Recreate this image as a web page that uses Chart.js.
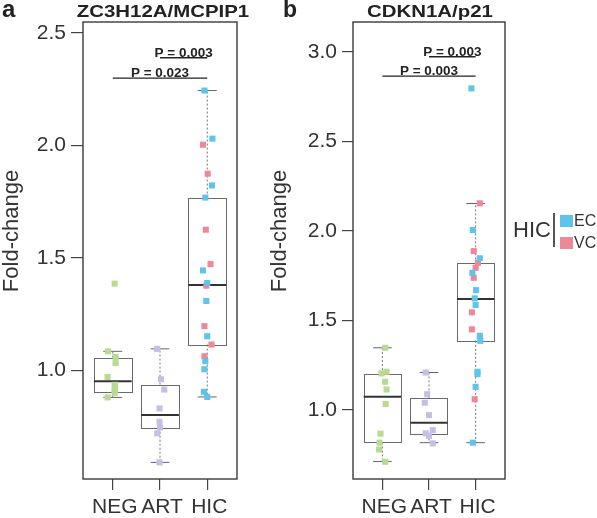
<!DOCTYPE html>
<html>
<head>
<meta charset="utf-8">
<script src="https://cdn.jsdelivr.net/npm/chart.js@4.4.0/dist/chart.umd.min.js"></script>
<style>
    body { margin: 0; background: #fff; }
    #wrap { position: relative; width: 597px; height: 518px; overflow: hidden; font-family: "Liberation Sans", Arial, sans-serif; color: #222; }
    canvas { position: absolute; top: 0; }
    .txt { position: absolute; white-space: nowrap; line-height: 1; }
    .panel { font-weight: bold; }
    .title { font-weight: bold; font-size: 17px; width: 220px; text-align: center; transform: scaleX(1.2); }
    .ytitle { font-size: 22px; line-height: 22px; width: 160px; height: 22px; text-align: center; transform: rotate(-90deg); color: #333; }
    .sw { position: absolute; width: 13px; height: 12px; }
</style>
</head>
<body>
<div id="wrap">
    <canvas id="chart-a" width="250" height="518" style="left:0px"></canvas>
    <canvas id="chart-b" width="240" height="518" style="left:280px"></canvas>

    <div class="txt panel" style="left:2px; top:-3px; font-size:24px;">a</div>
    <div class="txt panel" style="left:283px; top:-2.5px; font-size:23px;">b</div>
    <div class="txt title" style="left:53px; top:2.6px;">ZC3H12A/MCPIP1</div>
    <div class="txt title" style="left:320px; top:2.6px;">CDKN1A/p21</div>
    <div class="txt ytitle" style="left:-69px; top:220px;">Fold-change</div>
    <div class="txt ytitle" style="left:199px; top:220px;">Fold-change</div>

    <div class="txt" style="left:513px; top:219px; font-size:22px; color:#333;">HIC</div>
    <div style="position:absolute; left:553px; top:213px; width:1.5px; height:34px; background:#555;"></div>
    <div class="sw" style="left:560px; top:215px; background:#5fc4ec;"></div>
    <div class="sw" style="left:560px; top:237px; background:#ee8898;"></div>
    <div class="txt" style="left:574px; top:213px; font-size:16px; color:#333;">EC</div>
    <div class="txt" style="left:574px; top:235px; font-size:16px; color:#333;">VC</div>
</div>

<script>
const categories = ['NEG', 'ART', 'HIC'];

// panel a : ZC3H12A/MCPIP1
const negA = [1.385, 1.084, 1.059, 1.032, 0.970, 0.935, 0.925, 0.912, 0.899, 0.879];
const negJitA = [0.04, -0.10, 0.06, 0.06, -0.11, 0.04, 0.05, 0.04, 0.04, -0.11];
const artA = [1.095, 0.960, 0.914, 0.830, 0.770, 0.745, 0.719, 0.590];
const artJitA = [-0.06, 0.02, 0.09, -0.01, -0.01, 0.00, -0.06, -0.01];
const hicEcA = [2.244, 2.030, 1.822, 1.768, 1.444, 1.388, 1.308, 1.151, 1.040, 1.004, 0.904, 0.881];
const hicEcJitA = [-0.06, 0.11, 0.10, -0.04, -0.09, 0.00, -0.02, 0.00, -0.04, -0.06, -0.07, 0.00];
const hicVcA = [2.003, 1.874, 1.625, 1.472, 1.376, 1.196, 1.114, 1.062];
const hicVcJitA = [-0.09, 0.01, -0.03, 0.07, -0.02, -0.06, 0.09, -0.06];

const boxLowA = [0.879, 0.590, 0.881];
const boxQ1A = [0.905, 0.744, 1.114];
const boxMedA = [0.951, 0.801, 1.379];
const boxQ3A = [1.056, 0.936, 1.768];
const boxHighA = [1.084, 1.095, 2.244];

const pLabelA = ['P = 0.003', 'P = 0.023'];
const pFromA = [2, 1];
const pToA = [3, 3];
const pYA = [2.390, 2.299];
const yTicksA = [1.0, 1.5, 2.0, 2.5];

// panel b : CDKN1A/p21
const negB = [1.348, 1.214, 1.205, 1.158, 1.115, 1.034, 0.868, 0.818, 0.780, 0.711];
const negJitB = [0.06, 0.09, -0.02, 0.06, 0.09, 0.07, -0.04, -0.06, -0.07, 0.06];
const artB = [1.210, 1.089, 1.041, 0.972, 0.888, 0.870, 0.856, 0.814];
const artJitB = [-0.07, -0.04, -0.09, 0.00, 0.08, -0.07, 0.00, 0.08];
const hicEcB = [2.797, 2.006, 1.848, 1.767, 1.670, 1.624, 1.587, 1.415, 1.387, 1.214, 1.201, 1.130, 0.818];
const hicEcJitB = [-0.09, -0.06, 0.09, -0.07, 0.01, -0.02, 0.00, 0.09, 0.10, 0.04, 0.04, 0.00, -0.06];
const hicVcB = [2.155, 1.888, 1.823, 1.795, 1.739, 1.546, 1.451, 1.061];
const hicVcJitB = [0.09, -0.04, 0.05, 0.00, -0.04, -0.08, -0.08, -0.02];

const boxLowB = [0.713, 0.818, 0.818];
const boxQ1B = [0.819, 0.864, 1.387];
const boxMedB = [1.074, 0.929, 1.620];
const boxQ3B = [1.201, 1.065, 1.820];
const boxHighB = [1.348, 1.210, 2.154];

const pLabelB = ['P = 0.003', 'P = 0.003'];
const pFromB = [2, 1];
const pToB = [3, 3];
const pYB = [2.974, 2.866];
const yTicksB = [1.0, 1.5, 2.0, 2.5, 3.0];

const colNeg = '#b9da93';
const colArt = '#c4c0e4';
const colEc = '#5fc4ec';
const colVc = '#ee8898';


function toPoints(values, jitter, cat) {
    return values.map((v, i) => ({x: cat + jitter[i], y: v}));
}


// boxes under the points, frame and P-value bars over them
function makeBoxPlugin(low, q1, med, q3, high, pLabel, pFrom, pTo, pY) {
    return {
        id: 'boxes',
        beforeDatasetsDraw(chart) {
            const ctx = chart.ctx;
            const x = chart.scales.x;
            const y = chart.scales.y;
            ctx.save();
            for (let i = 0; i < low.length; ++i) {
                let c = i + 1;
                let xl = x.getPixelForValue(c - 0.4);
                let xr = x.getPixelForValue(c + 0.4);
                let xc = x.getPixelForValue(c);
                let cl = x.getPixelForValue(c - 0.2);
                let cr = x.getPixelForValue(c + 0.2);

                // whiskers
                ctx.strokeStyle = '#777';
                ctx.lineWidth = 1;
                ctx.setLineDash([2, 2]);
                ctx.beginPath();
                ctx.moveTo(xc, y.getPixelForValue(q3[i]));
                ctx.lineTo(xc, y.getPixelForValue(high[i]));
                ctx.moveTo(xc, y.getPixelForValue(q1[i]));
                ctx.lineTo(xc, y.getPixelForValue(low[i]));
                ctx.stroke();
                ctx.setLineDash([]);

                ctx.strokeStyle = '#666';
                ctx.beginPath();
                ctx.moveTo(cl, y.getPixelForValue(high[i]));
                ctx.lineTo(cr, y.getPixelForValue(high[i]));
                ctx.moveTo(cl, y.getPixelForValue(low[i]));
                ctx.lineTo(cr, y.getPixelForValue(low[i]));
                ctx.stroke();

                // box
                let yt = y.getPixelForValue(q3[i]);
                let yb = y.getPixelForValue(q1[i]);
                ctx.strokeStyle = '#6a6a6a';
                ctx.strokeRect(Math.round(xl) + 0.5, Math.round(yt) + 0.5, Math.round(xr - xl), Math.round(yb - yt));

                // median
                ctx.strokeStyle = '#333';
                ctx.lineWidth = 2;
                ctx.beginPath();
                ctx.moveTo(xl, y.getPixelForValue(med[i]));
                ctx.lineTo(xr, y.getPixelForValue(med[i]));
                ctx.stroke();
            }
            ctx.restore();
        },
        afterDatasetsDraw(chart) {
            const ctx = chart.ctx;
            const a = chart.chartArea;
            const x = chart.scales.x;
            const y = chart.scales.y;
            ctx.save();
            ctx.strokeStyle = '#3a3a3a';
            ctx.lineWidth = 1.4;
            ctx.strokeRect(a.left, a.top, a.right - a.left, a.bottom - a.top);

            ctx.strokeStyle = '#222';
            ctx.fillStyle = '#222';
            ctx.lineWidth = 1.3;
            ctx.font = 'bold 13.5px "Liberation Sans", Arial, sans-serif';
            ctx.textAlign = 'center';
            ctx.textBaseline = 'alphabetic';
            for (let i = 0; i < pLabel.length; ++i) {
                let x1 = x.getPixelForValue(pFrom[i]);
                let x2 = x.getPixelForValue(pTo[i]);
                let py = y.getPixelForValue(pY[i]);
                ctx.beginPath();
                ctx.moveTo(x1, py);
                ctx.lineTo(x2, py);
                ctx.stroke();
                ctx.fillText(pLabel[i], (x1 + x2) / 2, py - 1);
            }
            ctx.restore();
        }
    };
}


function drawPanel(canvasId, sets, yMin, yMax, yTicks, yWidth, padRight, yTickLen, plugin) {
    const data = {
        datasets: [
            {label: 'NEG', data: sets[0], backgroundColor: colNeg},
            {label: 'ART', data: sets[1], backgroundColor: colArt},
            {label: 'EC', data: sets[2], backgroundColor: colEc},
            {label: 'VC', data: sets[3], backgroundColor: colVc}
        ]
    };
    data.datasets.forEach(d => {
        d.pointStyle = 'rect';
        d.pointRadius = 4.3;
        d.pointBorderWidth = 0;
        d.borderWidth = 0;
    });

    const config = {
        type: 'scatter',
        data: data,
        options: {
            responsive: false,
            animation: false,
            events: [],
            layout: {padding: {top: 22, right: padRight, left: 0, bottom: 0}},
            plugins: {
                legend: {display: false},
                tooltip: {enabled: false}
            },
            scales: {
                x: {
                    type: 'linear',
                    min: 0.37,
                    max: 3.63,
                    afterBuildTicks: axis => { axis.ticks = categories.map((c, i) => ({value: i + 1})); },
                    afterFit: axis => { axis.height = 39; },
                    ticks: {
                        callback: (v, i) => categories[i],
                        autoSkip: false,
                        maxRotation: 0,
                        padding: 5,
                        labelOffset: 2,
                        color: '#333',
                        font: {family: '"Liberation Sans", Arial, sans-serif', size: 21}
                    },
                    grid: {drawOnChartArea: false, drawTicks: true, tickLength: 11, color: '#444', lineWidth: 1.2},
                    border: {display: false}
                },
                y: {
                    min: yMin,
                    max: yMax,
                    afterBuildTicks: axis => { axis.ticks = yTicks.map(v => ({value: v})); },
                    afterFit: axis => { axis.width = yWidth; },
                    ticks: {
                        callback: v => v.toFixed(1),
                        padding: 5,
                        color: '#333',
                        font: {family: '"Liberation Sans", Arial, sans-serif', size: 21}
                    },
                    grid: {drawOnChartArea: false, drawTicks: true, tickLength: yTickLen, color: '#444', lineWidth: 1.2},
                    border: {display: false}
                }
            }
        },
        plugins: [plugin]
    };
    return new Chart(canvasId, config);
}


drawPanel('chart-a',
    [toPoints(negA, negJitA, 1), toPoints(artA, artJitA, 2), toPoints(hicEcA, hicEcJitA, 3), toPoints(hicVcA, hicVcJitA, 3)],
    0.516, 2.549, yTicksA, 83, 13, 12,
    makeBoxPlugin(boxLowA, boxQ1A, boxMedA, boxQ3A, boxHighA, pLabelA, pFromA, pToA, pYA));

drawPanel('chart-b',
    [toPoints(negB, negJitB, 1), toPoints(artB, artJitB, 2), toPoints(hicEcB, hicEcJitB, 3), toPoints(hicVcB, hicVcJitB, 3)],
    0.615, 3.168, yTicksB, 73, 15, 11,
    makeBoxPlugin(boxLowB, boxQ1B, boxMedB, boxQ3B, boxHighB, pLabelB, pFromB, pToB, pYB));
</script>
</body>
</html>
